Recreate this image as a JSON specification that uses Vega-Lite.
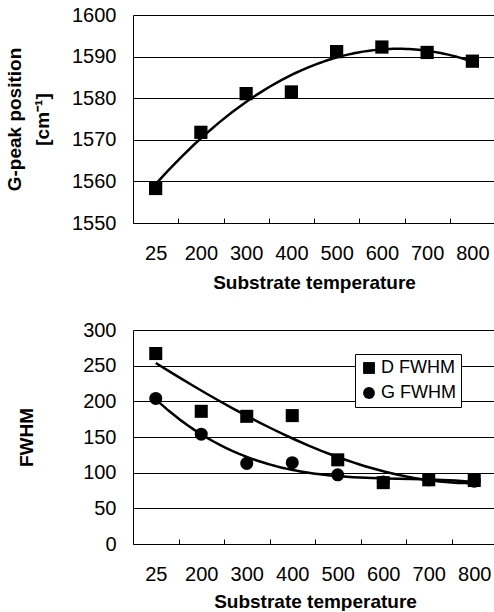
{
  "$schema": "https://vega.github.io/schema/vega-lite/v6.json",
  "padding": {"left": 5, "top": 5, "right": 0, "bottom": 0},
  "spacing": 28,
  "resolve": {"legend": {"shape": "independent"}},
  "config": {
    "view": {"stroke": null},
    "font": "Liberation Sans",
    "axis": {
      "labelFont": "Liberation Sans Narrow, Liberation Sans, sans-serif",
      "labelFontSize": 20,
      "labelColor": "black",
      "titleColor": "black",
      "titleFont": "Liberation Sans",
      "titleFontSize": 19,
      "titleFontWeight": "bold",
      "domainColor": "black",
      "domainWidth": 1,
      "tickColor": "black",
      "gridColor": "black",
      "gridOpacity": 1,
      "gridWidth": 1
    }
  },
  "vconcat": [
    {
      "width": 362,
      "height": 208,
      "data": {"values": [
        {"T": 25, "G": 1558.3},
        {"T": 200, "G": 1571.8},
        {"T": 300, "G": 1581.1},
        {"T": 400, "G": 1581.5},
        {"T": 500, "G": 1591.2},
        {"T": 600, "G": 1592.3},
        {"T": 700, "G": 1591.0},
        {"T": 800, "G": 1588.9}
      ]},
      "transform": [{"window": [{"op": "row_number", "as": "i"}], "sort": [{"field": "T"}]}],
      "encoding": {
        "x": {"field": "i", "type": "quantitative",
          "scale": {"domain": [0.5, 8.5], "nice": false, "zero": false},
          "axis": {"values": [1.5, 2.5, 3.5, 4.5, 5.5, 6.5, 7.5, 8.5],
            "labelExpr": "['25','200','300','400','500','600','700','800'][floor(datum.value)-1]",
            "labelOffset": -22.6, "labelFlush": false, "labelOverlap": false,
            "tickSize": -5, "grid": false, "labelPadding": 25, "titlePadding": 10,
            "title": "Substrate temperature"}},
        "y": {"field": "G", "type": "quantitative",
          "scale": {"domain": [1550, 1600], "nice": false, "zero": false},
          "axis": {"values": [1550, 1560, 1570, 1580, 1590, 1600], "grid": true, "format": "d",
            "tickSize": 0, "labelPadding": 17, "titlePadding": 19, "titleLineHeight": 28,
            "title": ["G-peak position", "[cm⁻¹]"]}}
      },
      "layer": [
        {
          "transform": [{"regression": "G", "on": "i", "method": "poly", "order": 2, "extent": [1, 8]}],
          "mark": {"type": "line", "color": "black", "strokeWidth": 2.5}
        },
        {
          "mark": {"type": "square", "size": 175, "color": "black", "opacity": 1}
        }
      ]
    },
    {
      "width": 364,
      "height": 214,
      "data": {"values": [
        {"T": 25, "series": "G FWHM", "FWHM": 204},
        {"T": 200, "series": "G FWHM", "FWHM": 154},
        {"T": 300, "series": "G FWHM", "FWHM": 113},
        {"T": 400, "series": "G FWHM", "FWHM": 114},
        {"T": 500, "series": "G FWHM", "FWHM": 97},
        {"T": 600, "series": "G FWHM", "FWHM": 87},
        {"T": 700, "series": "G FWHM", "FWHM": 90},
        {"T": 800, "series": "G FWHM", "FWHM": 88},
        {"T": 25, "series": "D FWHM", "FWHM": 267},
        {"T": 200, "series": "D FWHM", "FWHM": 186},
        {"T": 300, "series": "D FWHM", "FWHM": 179},
        {"T": 400, "series": "D FWHM", "FWHM": 180},
        {"T": 500, "series": "D FWHM", "FWHM": 118},
        {"T": 600, "series": "D FWHM", "FWHM": 86},
        {"T": 700, "series": "D FWHM", "FWHM": 90},
        {"T": 800, "series": "D FWHM", "FWHM": 89}
      ]},
      "transform": [{"window": [{"op": "row_number", "as": "i"}], "sort": [{"field": "T"}], "groupby": ["series"]}],
      "encoding": {
        "x": {"field": "i", "type": "quantitative",
          "scale": {"domain": [0.5, 8.5], "nice": false, "zero": false},
          "axis": {"values": [1.5, 2.5, 3.5, 4.5, 5.5, 6.5, 7.5, 8.5],
            "labelExpr": "['25','200','300','400','500','600','700','800'][floor(datum.value)-1]",
            "labelOffset": -22.75, "labelFlush": false, "labelOverlap": false,
            "tickSize": -5, "grid": false, "labelPadding": 25, "titlePadding": 8,
            "title": "Substrate temperature"}},
        "y": {"field": "FWHM", "type": "quantitative",
          "scale": {"domain": [0, 300], "nice": false},
          "axis": {"values": [0, 50, 100, 150, 200, 250, 300], "grid": true,
            "tickSize": 0, "labelPadding": 17, "titlePadding": 46,
            "title": "FWHM"}}
      },
      "layer": [
        {
          "transform": [{"regression": "FWHM", "on": "i", "groupby": ["series"], "method": "poly", "order": 3, "extent": [1, 8]}],
          "mark": {"type": "line", "color": "black", "strokeWidth": 2.5},
          "encoding": {"detail": {"field": "series"}}
        },
        {
          "mark": {"type": "point", "filled": true, "size": 170, "color": "black", "opacity": 1},
          "encoding": {
            "shape": {"field": "series", "type": "nominal",
              "scale": {"domain": ["D FWHM", "G FWHM"], "range": ["square", "circle"]},
              "legend": {"title": null, "orient": "none", "legendX": 222, "legendY": 24,
                "padding": 5, "strokeColor": "black", "fillColor": "white",
                "labelFontSize": 18, "labelFont": "Liberation Sans", "labelColor": "black",
                "symbolSize": 140, "symbolFillColor": "black", "symbolStrokeColor": "black",
                "rowPadding": 7, "labelOffset": 3}}
          }
        }
      ]
    }
  ]
}
